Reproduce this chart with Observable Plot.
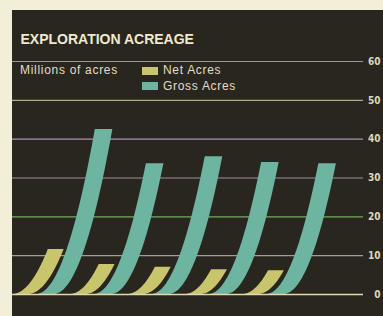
<!DOCTYPE html>
<html><head><meta charset="utf-8">
<script src="https://cdn.jsdelivr.net/npm/d3@7"></script>
<script src="https://cdn.jsdelivr.net/npm/@observablehq/plot@0.6"></script>
<style>
html,body{margin:0;padding:0;background:#f2eed8;width:383px;height:316px;overflow:hidden;}
#panel{position:absolute;left:12px;top:10px;width:371px;height:306px;background:#29261f;font-family:"Liberation Sans",Arial,Helvetica,sans-serif;}
#chart{position:absolute;left:0;top:0;}
#title{position:absolute;left:8.5px;top:21.5px;font-size:14px;line-height:14px;font-weight:bold;color:#efe9cf;white-space:nowrap;}
.t{position:absolute;font-size:12px;line-height:12px;color:#e2ddc4;letter-spacing:0.7px;white-space:nowrap;}
.sw{position:absolute;width:16px;height:8px;}
</style></head><body>
<div id="panel">
  <div id="chart"></div>
  <div id="title">EXPLORATION ACREAGE</div>
  <div class="t" style="left:8px;top:54px">Millions of acres</div>
  <div class="sw" id="sw0" style="left:130px;top:57px"></div>
  <div class="t" id="lg0" style="left:151px;top:54px"></div>
  <div class="sw" id="sw1" style="left:130px;top:72px"></div>
  <div class="t" id="lg1" style="left:151px;top:70px"></div>
</div>
<script>
// ---- data ----
const groups = [0, 1, 2, 3, 4];
const netAcres = [11.6, 7.7, 7.0, 6.4, 6.1];
const grossAcres = [42.5, 33.7, 35.5, 34.0, 33.7];
const seriesNames = ["Net Acres", "Gross Acres"];
const yTicks = [0, 10, 20, 30, 40, 50, 60];

// ---- styles ----
const netColor = "#c9c56c";
const grossColor = "#6db5a0";
const gridColors = ["#dedbb4", "#a8979c", "#6fae5a", "#a48aa0", "#b08cb8", "#a9ad92", "#7fae6c"];

document.getElementById("sw0").style.background = netColor;
document.getElementById("sw1").style.background = grossColor;
document.getElementById("lg0").textContent = seriesNames[0];
document.getElementById("lg1").textContent = seriesNames[1];

// swoosh geometry (in group-spacing units): offset = k * sqrt(value)
function swoosh(values, baseOffset, k, w) {
  const rows = [];
  const N = 48;
  groups.forEach((g, i) => {
    const v = values[i];
    for (let j = 0; j <= N; j++) {
      const t = j / N;
      const u = v * t * t;
      const xl = g + baseOffset + k * Math.sqrt(u);
      rows.push({g, y: u, x1: xl, x2: xl + w});
    }
  });
  return rows;
}
const netRows = swoosh(netAcres, 0, 0.183, 0.275);
const grossRows = swoosh(grossAcres, 0.417, 0.157, 0.305);

const chart = Plot.plot({
  width: 371,
  height: 306,
  marginTop: 51,
  marginBottom: 22,
  marginLeft: 0,
  marginRight: 20,
  style: {background: "transparent"},
  x: {domain: [0, 351 / 57.5], axis: null},
  y: {domain: [0, 60], axis: null},
  color: {type: "identity"},
  marks: [
    Plot.ruleY(yTicks.filter(d => d > 0), {stroke: d => gridColors[yTicks.indexOf(d)], strokeWidth: 1.2}),
    Plot.areaX(netRows, {y: "y", x1: "x1", x2: "x2", z: "g", fill: netColor, curve: "linear"}),
    Plot.areaX(grossRows, {y: "y", x1: "x1", x2: "x2", z: "g", fill: grossColor, curve: "linear"}),
    Plot.ruleY([0], {stroke: gridColors[0], strokeWidth: 1.4}),
    Plot.text(yTicks, {y: d => d, frameAnchor: "right", dx: 17, textAnchor: "end", text: d => String(d),
      fill: "#ddd8be", fontSize: 10, fontWeight: "bold",
      fontFamily: "'Liberation Sans Narrow','DejaVu Sans Condensed','Liberation Sans',sans-serif"})
  ]
});
document.getElementById("chart").appendChild(chart);
</script>
</body></html>
